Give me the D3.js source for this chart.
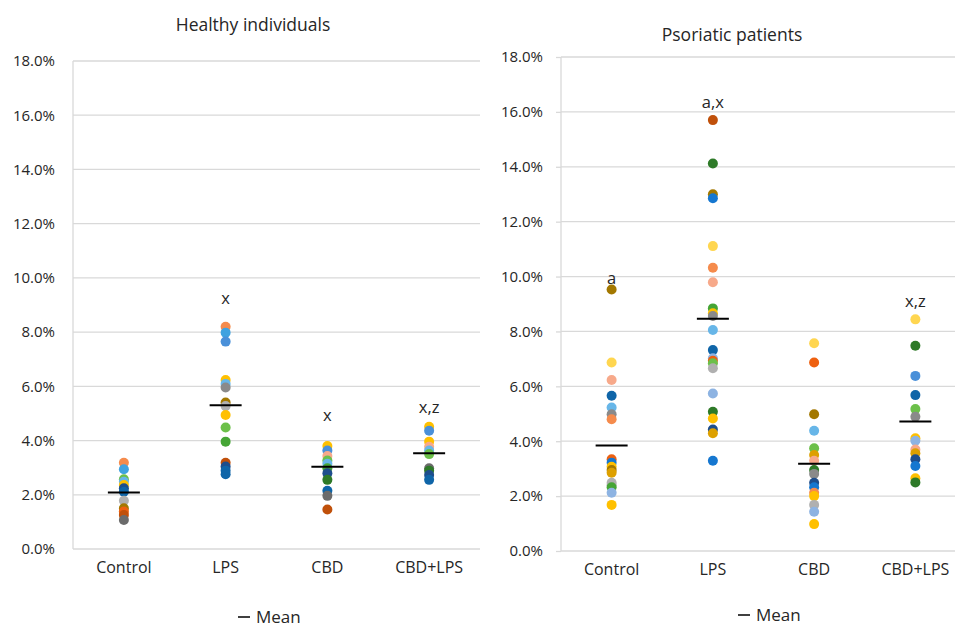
<!DOCTYPE html>
<html><head><meta charset="utf-8">
<script src="https://cdn.jsdelivr.net/npm/d3@7"></script>
<style>
html,body{margin:0;padding:0;background:#fff;}
svg{display:block;font-family:"Open Sans","Noto Sans",sans-serif;}
</style></head>
<body><svg id="c" width="955" height="628"></svg>
<script>
// ---------- DATA ----------
const categories = ["Control", "LPS", "CBD", "CBD+LPS"];
const yTicks = [0, 2, 4, 6, 8, 10, 12, 14, 16, 18];

const palette = {
  orange:"#F58B4C", peach:"#F7A98A", sky:"#3FA2E0", blue:"#4A90D9", periwinkle:"#8DB3E2",
  lightsky:"#67B6E8", yellow:"#FFC000", lightyellow:"#FFD650", gold:"#DDA000", olive:"#A37800",
  rust:"#C0500A", orangered:"#EE6010", green:"#6CC04A", midgreen:"#45A535", darkgreen:"#2E7A28",
  navy:"#1E4E8C", darkblue:"#0F65A8", blue2:"#1577D0", gray:"#B0B0B0", midgray:"#8A8A8A", darkgray:"#6B6B6B"
};

// Healthy individuals (%)
const healthyControl = [3.18, 2.94, 2.57, 2.48, 2.36, 2.24, 2.11, 1.78, 1.50, 1.38, 1.25, 1.07];
const healthyControlColors = ["orange","sky","green","lightsky","yellow","navy","darkblue","gray","olive","orangered","rust","darkgray"];
const healthyLPS = [8.20, 7.98, 7.65, 6.23, 6.09, 5.96, 5.40, 5.27, 4.94, 4.48, 3.96, 3.18, 3.04, 2.89, 2.76];
const healthyLPSColors = ["orange","sky","blue","yellow","lightsky","midgray","olive","gray","yellow","green","midgreen","rust","navy","darkblue","darkblue"];
const healthyCBD = [3.80, 3.63, 3.43, 3.26, 3.14, 2.98, 2.79, 2.55, 2.15, 1.96, 1.46];
const healthyCBDColors = ["yellow","blue","peach","green","lightsky","midgreen","navy","darkgreen","darkblue","darkgray","rust"];
const healthyCBDLPS = [4.51, 4.36, 3.96, 3.77, 3.63, 3.50, 2.98, 2.89, 2.73, 2.55];
const healthyCBDLPSColors = ["yellow","blue","yellow","peach","lightsky","green","darkgray","darkgreen","navy","darkblue"];
const healthyMeans = [2.08, 5.30, 3.03, 3.53];
const healthyLetters = [["LPS","x",9.22],["CBD","x",4.91],["CBD+LPS","x,z",5.2]];

// Psoriatic patients (%)
const psoControl = [9.53, 6.87, 6.23, 5.66, 5.23, 4.98, 4.80, 3.34, 3.22, 3.07, 2.95, 2.85, 2.49, 2.40, 2.32, 2.12, 1.68];
const psoControlColors = ["olive","lightyellow","peach","darkblue","lightsky","midgray","orange","orangered","blue2","yellow","olive","gold","gray","gray","midgreen","periwinkle","yellow"];
const psoLPS = [15.70, 14.12, 13.00, 12.85, 11.11, 10.32, 9.79, 8.84, 8.66, 8.56, 8.05, 7.32, 7.02, 6.93, 6.84, 6.66, 5.74, 5.07, 4.83, 4.43, 4.29, 3.29];
const psoLPSColors = ["rust","darkgreen","olive","blue2","lightyellow","orange","peach","midgreen","yellow","midgray","lightsky","darkblue","periwinkle","orangered","green","gray","periwinkle","darkgreen","yellow","navy","gold","blue2"];
const psoCBD = [7.57, 6.87, 4.98, 4.38, 3.74, 3.50, 3.29, 2.95, 2.81, 2.49, 2.32, 2.12, 2.00, 1.68, 1.43, 0.98];
const psoCBDColors = ["lightyellow","orangered","olive","lightsky","green","gold","peach","darkgreen","midgray","navy","blue2","orange","yellow","gray","periwinkle","yellow"];
const psoCBDLPS = [8.44, 7.48, 6.38, 5.68, 5.17, 4.89, 4.11, 4.02, 3.70, 3.56, 3.34, 3.10, 2.65, 2.50];
const psoCBDLPSColors = ["lightyellow","darkgreen","blue","darkblue","green","midgray","yellow","periwinkle","peach","gold","navy","blue2","yellow","darkgreen"];
const psoMeans = [3.84, 8.46, 3.18, 4.72];
const psoLetters = [["Control","a",9.91],["LPS","a,x",16.32],["CBD+LPS","x,z",9.07]];

// ---------- DRAW ----------
const svg = d3.select("#c");

function panel(cfg) {
  const g = svg.append("g");
  const x = d3.scaleBand().domain(categories).range([cfg.left, cfg.right]);
  const y = d3.scaleLinear().domain([0, 18]).range([cfg.bottom, cfg.top]);

  // gridlines
  g.append("g").selectAll("line").data(yTicks).join("line")
    .attr("x1", cfg.left).attr("x2", cfg.gridEnd)
    .attr("y1", d => y(d)).attr("y2", d => y(d))
    .attr("stroke", "#D9D9D9").attr("stroke-width", 1.3);

  // y axis
  const ya = g.append("g").attr("transform", `translate(${cfg.left},0)`)
    .call(d3.axisLeft(y).tickValues(yTicks).tickSize(cfg.tick).tickPadding(18 - cfg.tick)
      .tickFormat(d => d.toFixed(1) + "%"));
  ya.select(".domain").attr("stroke", "#D9D9D9").attr("stroke-width", 1.3)
    .attr("d", `M0,${cfg.bottom}V${cfg.top}`);
  ya.selectAll(".tick line").attr("stroke", "#D9D9D9").attr("stroke-width", 1.3);
  ya.selectAll(".tick text").attr("font-size", 15).attr("fill", "#262626")
    .attr("font-family", "'Open Sans',sans-serif");

  // x labels
  g.append("g").selectAll("text").data(categories).join("text")
    .attr("x", d => x(d) + x.bandwidth() / 2).attr("y", cfg.bottom + 24)
    .attr("text-anchor", "middle").attr("font-size", 16).attr("fill", "#262626")
    .text(d => d);

  // points
  cfg.values.forEach((vals, i) => {
    const cat = categories[i];
    g.append("g").selectAll("circle").data(vals).join("circle")
      .attr("cx", x(cat) + x.bandwidth() / 2).attr("cy", d => y(d))
      .attr("r", cfg.r)
      .attr("fill", (d, j) => palette[cfg.colors[i][j]]);
  });

  // means
  g.append("g").selectAll("line").data(cfg.means).join("line")
    .attr("x1", (d, i) => x(categories[i]) + x.bandwidth() / 2 - 16)
    .attr("x2", (d, i) => x(categories[i]) + x.bandwidth() / 2 + 16)
    .attr("y1", d => y(d)).attr("y2", d => y(d))
    .attr("stroke", "#000").attr("stroke-width", 2);

  // letters
  g.append("g").selectAll("text").data(cfg.letters).join("text")
    .attr("x", d => x(d[0]) + x.bandwidth() / 2).attr("y", d => y(d[2]) + 5)
    .attr("text-anchor", "middle").attr("font-size", 16.5).attr("fill", "#262626")
    .text(d => d[1]);

  // title
  g.append("text").attr("x", cfg.titleX).attr("y", cfg.titleY)
    .attr("text-anchor", "middle").attr("font-size", 17.5).attr("fill", "#262626")
    .text(cfg.title);

  // legend
  const lg = g.append("g").attr("transform", `translate(${cfg.legendX},${cfg.legendY})`);
  lg.append("line").attr("x1", 0).attr("x2", 12).attr("y1", 0).attr("y2", 0)
    .attr("stroke", "#000").attr("stroke-width", 1.5);
  lg.append("text").attr("x", 18).attr("y", 5.5).attr("font-size", 17).attr("fill", "#262626").text("Mean");
}

panel({
  title: "Healthy individuals", titleX: 253, titleY: 31,
  left: 73, right: 480, gridEnd: 480, top: 61, bottom: 549, tick: 0, r: 5,
  values: [healthyControl, healthyLPS, healthyCBD, healthyCBDLPS],
  colors: [healthyControlColors, healthyLPSColors, healthyCBDColors, healthyCBDLPSColors],
  means: healthyMeans, letters: healthyLetters,
  legendX: 238, legendY: 617
});

panel({
  title: "Psoriatic patients", titleX: 732, titleY: 41,
  left: 561, right: 966, gridEnd: 955, top: 57, bottom: 551, tick: 5, r: 5,
  values: [psoControl, psoLPS, psoCBD, psoCBDLPS],
  colors: [psoControlColors, psoLPSColors, psoCBDColors, psoCBDLPSColors],
  means: psoMeans, letters: psoLetters,
  legendX: 738, legendY: 615
});
</script></body></html>
